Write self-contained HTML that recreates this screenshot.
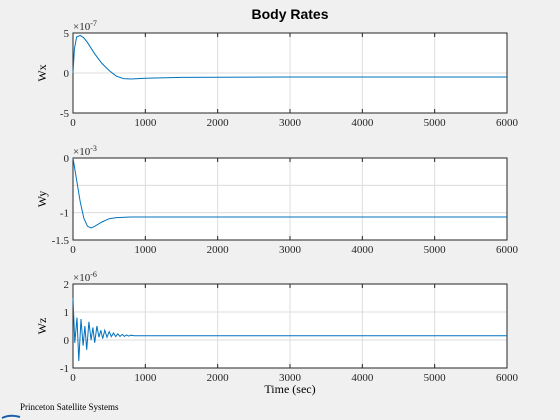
<!DOCTYPE html>
<html><head><meta charset="utf-8"><style>
body{margin:0;background:#f0f0f0;}
svg{display:block;font-family:"Liberation Serif",serif;}
</style></head><body>
<svg id="c" width="560" height="420">
<rect width="560" height="420" fill="#f0f0f0"/>
<text x="290" y="19" text-anchor="middle" font-family="Liberation Sans, sans-serif" font-weight="bold" font-size="14">Body Rates</text>
<text x="290" y="393" text-anchor="middle" font-size="12">Time (sec)</text>
<g>
<text x="20" y="410" font-size="9">Princeton Satellite Systems</text>
<path d="M2 418 Q10 414 20 417" stroke="#1f5fa8" stroke-width="2" fill="none"/>
</g>
</svg>
<script>
const xTicks=[0,1000,2000,3000,4000,5000,6000];
const wxT=[0,20,50,100,150,200,300,400,500,600,700,800,1000,1500,3000,6000];
const wxV=[0,3,4.5,4.7,4.4,3.8,2.4,1.2,0.3,-0.4,-0.7,-0.75,-0.65,-0.55,-0.5,-0.5];
const wyT=[0,50,100,150,200,250,300,400,500,600,800,1000,6000];
const wyV=[0,-0.4,-0.8,-1.1,-1.25,-1.28,-1.25,-1.17,-1.11,-1.09,-1.08,-1.08,-1.08];
const wzT=[0,25,55,80,110,140,165,190,220,250,275,300,330,360,385,410,440,470,500,530,560,590,620,650,680,710,740,770,800,850,6000];
const wzV=[1.5,-0.1,0.8,-0.75,0.75,-0.2,0.5,-0.35,0.65,0.0,0.45,-0.1,0.5,0.1,0.35,0.05,0.35,0.1,0.3,0.12,0.25,0.12,0.22,0.13,0.2,0.13,0.18,0.14,0.17,0.15,0.15];
const panels=[
 {name:'wx',top:33,bot:113,ymin:-5,ymax:5,yt:[-5,0,5],yl:['-5','0','5'],lab:'Wx',exp:'-7',t:wxT,v:wxV},
 {name:'wy',top:158,bot:240,ymin:-1.5,ymax:0,yt:[-1.5,-1,-0.5,0],yl:['-1.5','-1','','0'],lab:'Wy',exp:'-3',t:wyT,v:wyV},
 {name:'wz',top:284,bot:368,ymin:-1,ymax:2,yt:[-1,0,1,2],yl:['-1','0','1','2'],lab:'Wz',exp:'-6',t:wzT,v:wzV}];
const svg=document.getElementById('c');const NS='http://www.w3.org/2000/svg';
const L=73,R=507;
function xs(t){return L+(t-0)/6000*(R-L);}
function mk(tag,a,p){const e=document.createElementNS(NS,tag);for(const k in a)e.setAttribute(k,a[k]);(p||svg).appendChild(e);return e;}
panels.forEach(p=>{
 const ys=v=>p.bot-(v-p.ymin)/(p.ymax-p.ymin)*(p.bot-p.top);
 const g=mk('g',{});
 
 
 mk('rect',{x:L,y:p.top,width:R-L,height:p.bot-p.top,fill:'#fff'},g);
 xTicks.forEach(t=>{
  mk('line',{x1:xs(t),x2:xs(t),y1:p.top,y2:p.bot,stroke:'#dcdcdc','stroke-width':1},g);
  mk('line',{x1:xs(t),x2:xs(t),y1:p.bot,y2:p.bot-4,stroke:'#262626'},g);
  mk('line',{x1:xs(t),x2:xs(t),y1:p.top,y2:p.top+4,stroke:'#262626'},g);
  const tx=mk('text',{x:xs(t),y:p.bot+13,'text-anchor':'middle','font-size':11,fill:'#262626'},g);tx.textContent=t;
  
  
 });
 p.yt.forEach((v,i)=>{
  mk('line',{x1:L,x2:R,y1:ys(v),y2:ys(v),stroke:'#dcdcdc'},g);
  const tx=mk('text',{x:L-4,y:ys(v)+4,'text-anchor':'end','font-size':11,fill:'#262626'},g);tx.textContent=p.yl[i];
  
  
 });
 mk('rect',{x:L,y:p.top,width:R-L,height:p.bot-p.top,fill:'none',stroke:'#262626','stroke-width':1},g);
 const e=mk('text',{x:L,y:p.top-3,'font-size':11,fill:'#262626'},g);
 e.innerHTML='×10<tspan dy="-4" font-size="8">'+p.exp+'</tspan>';
 
 
 const yl=mk('text',{x:0,y:0,transform:`translate(${L-27},${(p.top+p.bot)/2}) rotate(-90)`,'text-anchor':'middle','font-size':12},g);yl.textContent=p.lab;
 
 
 const d=p.t.map((t,i)=>(i?'L':'M')+xs(t).toFixed(1)+' '+ys(p.v[i]).toFixed(1)).join(' ');
 const ln=mk('path',{d:d,fill:'none',stroke:'#0072bd','stroke-width':1},g);
 
 
});
</script>
</body></html>
